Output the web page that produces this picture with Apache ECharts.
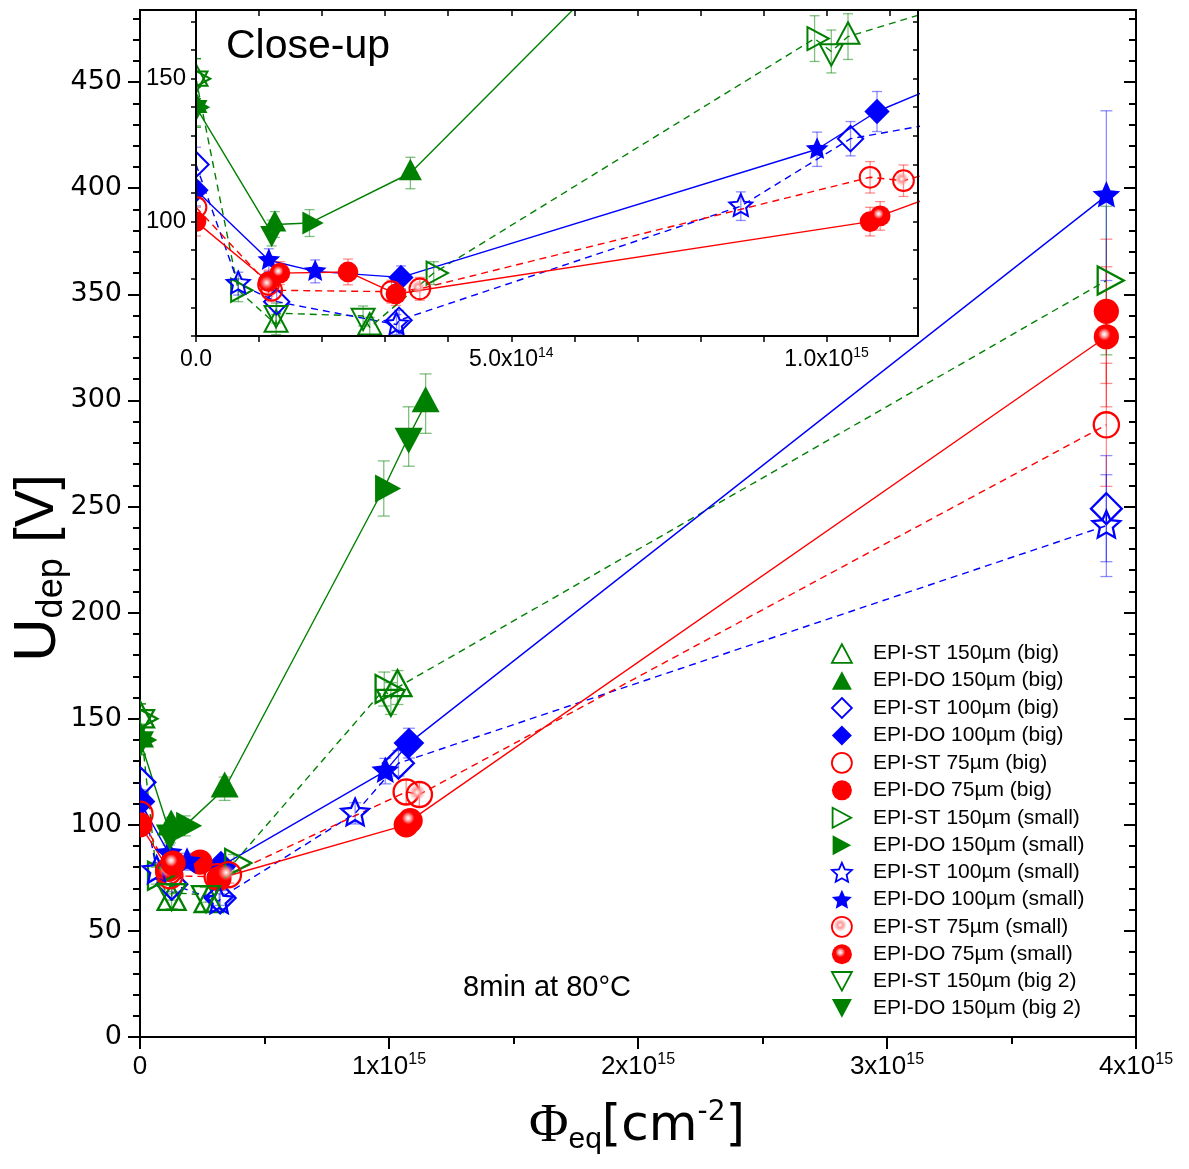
<!DOCTYPE html>
<html>
<head>
<meta charset="utf-8">
<script src="https://cdn.jsdelivr.net/npm/echarts@6/dist/echarts.min.js"></script>
<style>
  html, body { margin: 0; padding: 0; background: #fff; }
  #chart { width: 1189px; height: 1169px; }
</style>
</head>
<body>
<div id="chart"></div>
<script>
const GREEN = '#008000', BLUE = '#0000ff', RED = '#ff0000';
const ERR_COLORS = { '#008000': 'rgba(0,128,0,0.5)', '#0000ff': 'rgba(0,0,255,0.45)', '#ff0000': 'rgba(255,0,0,0.45)' };

// Measured points: [fluence Φeq (cm^-2), U_dep (V), error (V)]
const epiSt150Big   = [[0, 150, 7], [1.27e14, 64, 3.5], [2.755e14, 63, 3.5], [1.034e15, 164.7, 8]];
const epiDo150Big   = [[0, 140.5, 7], [1.25e14, 99, 4.5], [3.4e14, 117, 5.5], [1.147e15, 298.5, 14]];
const epiSt100Big   = [[0, 120, 6], [1.28e14, 72, 3.5], [3.22e14, 65.5, 3.5], [1.038e15, 129, 6], [3.881e15, 249, 25]];
const epiDo100Big   = [[0, 111, 5.5], [3.25e14, 80.5, 4], [1.08e15, 138.5, 7]];
const epiSt75Big    = [[0, 105, 5], [1.2e14, 76, 4], [3.1e14, 75.5, 4], [1.069e15, 115.5, 5.5], [3.881e15, 288.5, 29]];
const epiDo75Big    = [[0, 100, 5], [1.15e14, 79, 4], [2.41e14, 82.4, 4.5], [3.17e14, 74.7, 4], [1.069e15, 100, 5], [3.881e15, 342, 34]];
const epiSt150Small = [[0, 150, 7], [6.7e13, 76, 4], [3.77e14, 82, 4], [9.81e14, 164, 8], [3.881e15, 356.5, 35]];
const epiDo150Small = [[0, 140, 7], [1.8e14, 99.5, 4.7], [9.79e14, 258.5, 13]];
const epiSt100Small = [[6.7e13, 78.3, 4], [3.18e14, 64, 3.5], [8.64e14, 105.4, 5], [3.881e15, 241, 24]];
const epiDo100Small = [[1.155e14, 86.5, 4], [1.89e14, 82.6, 4], [9.85e14, 125.3, 6], [3.881e15, 396.5, 40]];
const epiSt75Small  = [[1.15e14, 78, 4], [3.55e14, 76.5, 4], [1.122e15, 114.3, 5.5]];
const epiDo75Small  = [[1.33e14, 82, 4], [1.085e15, 102, 5], [3.881e15, 330, 33]];
const epiSt150Big2  = [[0, 150, 7], [1.27e14, 68, 3.5], [2.65e14, 67, 3.5], [1.0075e15, 159.5, 7.5]];
const epiDo150Big2  = [[0, 140, 7], [1.2e14, 96, 4.5], [1.079e15, 283, 14]];

// Tick positions and labels
const mainYTicks   = [0, 50, 100, 150, 200, 250, 300, 350, 400, 450];
const insetYTicks  = [60, 70, 80, 90, 100, 110, 120, 130, 140, 150, 160, 170];
const insetYLabels = [100, 150];
const insetXTicks  = [0, 1e14, 2e14, 3e14, 4e14, 5e14, 6e14, 7e14, 8e14, 9e14, 1e15, 1.1e15];
const insetXLabels = [0, 5e14, 1e15];

const SERIES = [
  { name: 'EPI-ST 150µm (big)',   data: epiSt150Big,   color: GREEN, shape: 'up',      fill: 'none',  line: 'st150' },
  { name: 'EPI-DO 150µm (big)',   data: epiDo150Big,   color: GREEN, shape: 'up',      fill: 'solid', line: 'do150' },
  { name: 'EPI-ST 100µm (big)',   data: epiSt100Big,   color: BLUE,  shape: 'diamond', fill: 'none',  line: 'st100' },
  { name: 'EPI-DO 100µm (big)',   data: epiDo100Big,   color: BLUE,  shape: 'diamond', fill: 'solid', line: 'do100' },
  { name: 'EPI-ST 75µm (big)',    data: epiSt75Big,    color: RED,   shape: 'circle',  fill: 'none',  line: 'st75' },
  { name: 'EPI-DO 75µm (big)',    data: epiDo75Big,    color: RED,   shape: 'circle',  fill: 'solid', line: 'do75' },
  { name: 'EPI-ST 150µm (small)', data: epiSt150Small, color: GREEN, shape: 'right',   fill: 'none',  line: 'st150' },
  { name: 'EPI-DO 150µm (small)', data: epiDo150Small, color: GREEN, shape: 'right',   fill: 'solid', line: 'do150' },
  { name: 'EPI-ST 100µm (small)', data: epiSt100Small, color: BLUE,  shape: 'star',    fill: 'none',  line: 'st100' },
  { name: 'EPI-DO 100µm (small)', data: epiDo100Small, color: BLUE,  shape: 'star',    fill: 'solid', line: 'do100' },
  { name: 'EPI-ST 75µm (small)',  data: epiSt75Small,  color: RED,   shape: 'circle',  fill: 'glint', line: 'st75' },
  { name: 'EPI-DO 75µm (small)',  data: epiDo75Small,  color: RED,   shape: 'circle',  fill: 'ball',  line: 'do75' },
  { name: 'EPI-ST 150µm (big 2)', data: epiSt150Big2,  color: GREEN, shape: 'down',    fill: 'none',  line: 'st150' },
  { name: 'EPI-DO 150µm (big 2)', data: epiDo150Big2,  color: GREEN, shape: 'down',    fill: 'solid', line: 'do150' }
];

const LINES = [
  { key: 'do150', color: GREEN, dashed: false },
  { key: 'st150', color: GREEN, dashed: true },
  { key: 'do100', color: BLUE,  dashed: false },
  { key: 'st100', color: BLUE,  dashed: true },
  { key: 'do75',  color: RED,   dashed: false },
  { key: 'st75',  color: RED,   dashed: true }
];

function ballGradient() {
  return new echarts.graphic.RadialGradient(0.42, 0.4, 0.55, [
    { offset: 0, color: '#ffffff' }, { offset: 0.18, color: '#ffb4b4' },
    { offset: 0.45, color: '#ff0000' }, { offset: 1, color: '#ff0000' }]);
}
function glintGradient() {
  return new echarts.graphic.RadialGradient(0.42, 0.42, 0.3, [
    { offset: 0, color: '#ffffff' }, { offset: 0.4, color: 'rgba(255,150,150,0.95)' },
    { offset: 1, color: 'rgba(255,120,120,0)' }]);
}

function markerStyle(def, inset) {
  const lw = inset ? 2 : 2.3;
  switch (def.fill) {
    case 'none':  return { fill: 'rgba(0,0,0,0)', stroke: def.color, lineWidth: lw };
    case 'glint': return { fill: glintGradient(), stroke: def.color, lineWidth: lw };
    case 'ball':  return { fill: ballGradient(), stroke: null, lineWidth: 0 };
    default:      return { fill: def.color, stroke: null, lineWidth: 0 };
  }
}

function starPoints(cx, cy, R) {
  const pts = [];
  for (let i = 0; i < 10; i++) {
    const a = (-90 + i * 36) * Math.PI / 180;
    const rad = i % 2 ? R * 0.47 : R;
    pts.push([cx + rad * Math.cos(a), cy + rad * Math.sin(a)]);
  }
  return pts;
}

// Triangles are anchored on their centroid.
function shapeElement(shape, cx, cy, s, style) {
  const h = s * 0.93;
  let pts;
  switch (shape) {
    case 'circle':
      return { type: 'circle', shape: { cx, cy, r: s * 0.45 }, style };
    case 'up':
      pts = [[cx, cy - 2 * h / 3], [cx + s / 2, cy + h / 3], [cx - s / 2, cy + h / 3]]; break;
    case 'down':
      pts = [[cx - s / 2, cy - h / 3], [cx + s / 2, cy - h / 3], [cx, cy + 2 * h / 3]]; break;
    case 'right':
      pts = [[cx - h / 3, cy - s / 2], [cx + 2 * h / 3, cy], [cx - h / 3, cy + s / 2]]; break;
    case 'diamond': {
      const d = s * 0.55;
      pts = [[cx, cy - d], [cx + d, cy], [cx, cy + d], [cx - d, cy]]; break;
    }
    case 'star':
      pts = starPoints(cx, cy, s * 0.52); break;
  }
  return { type: 'polygon', shape: { points: pts }, style };
}

function markerSeries(def, inset) {
  const size = inset ? 23 : 28;
  return {
    type: 'custom', name: def.name, coordinateSystem: 'cartesian2d',
    xAxisIndex: inset ? 1 : 0, yAxisIndex: inset ? 2 : 0,
    zlevel: inset ? 1 : 0, z: 5, clip: true, silent: true,
    itemStyle: { color: def.color },
    data: def.data.map(p => [p[0], p[1]]),
    encode: { x: 0, y: 1 },
    renderItem: (params, api) => {
      const c = api.coord([api.value(0), api.value(1)]);
      return shapeElement(def.shape, c[0], c[1], size, markerStyle(def, inset));
    }
  };
}

function errorBarSeries(inset) {
  const data = [];
  SERIES.forEach((s, si) => s.data.forEach(p => data.push([p[0], p[1] - p[2], p[1] + p[2], si])));
  const cw = inset ? 5 : 6;
  return {
    type: 'custom', coordinateSystem: 'cartesian2d',
    xAxisIndex: inset ? 1 : 0, yAxisIndex: inset ? 2 : 0,
    zlevel: inset ? 1 : 0, z: 3, clip: true, silent: true,
    data, encode: { x: 0, y: [1, 2] },
    renderItem: (params, api) => {
      const x = api.value(0);
      const lo = api.coord([x, api.value(1)]);
      const hi = api.coord([x, api.value(2)]);
      const st = { stroke: ERR_COLORS[SERIES[api.value(3)].color], lineWidth: 1.3 };
      return { type: 'group', children: [
        { type: 'line', shape: { x1: lo[0], y1: lo[1], x2: hi[0], y2: hi[1] }, style: st },
        { type: 'line', shape: { x1: lo[0] - cw, y1: lo[1], x2: lo[0] + cw, y2: lo[1] }, style: st },
        { type: 'line', shape: { x1: hi[0] - cw, y1: hi[1], x2: hi[0] + cw, y2: hi[1] }, style: st }
      ] };
    }
  };
}

// One connecting line per material/thickness, through all its points in fluence order.
function lineData(key) {
  const pts = [];
  SERIES.filter(s => s.line === key).forEach(s => s.data.forEach(p => pts.push([p[0], p[1]])));
  pts.sort((a, b) => a[0] - b[0] || a[1] - b[1]);
  return pts;
}

function lineSeries(l, inset) {
  return {
    type: 'line', xAxisIndex: inset ? 1 : 0, yAxisIndex: inset ? 2 : 0,
    zlevel: inset ? 1 : 0, z: 2, clip: true, silent: true,
    symbol: 'none', showSymbol: false,
    data: lineData(l.key),
    lineStyle: { color: l.color, width: 1.4, type: l.dashed ? [7, 5] : 'solid' }
  };
}

const ICON_PATHS = {
  up: 'path://M50,0L100,93L0,93Z',
  down: 'path://M0,0L100,0L50,93Z',
  right: 'path://M0,0L93,50L0,100Z',
  diamond: 'path://M50,0L100,50L50,100L0,50Z',
  star: 'path://' + starPoints(50, 50, 50).map((p, i) => (i ? 'L' : 'M') + p[0].toFixed(2) + ',' + p[1].toFixed(2)).join('') + 'Z',
  circle: 'circle'
};

function legendItem(def) {
  let itemStyle;
  switch (def.fill) {
    case 'none':  itemStyle = { color: 'rgba(0,0,0,0)', borderColor: def.color, borderWidth: 1.8 }; break;
    case 'glint': itemStyle = { color: glintGradient(), borderColor: def.color, borderWidth: 1.8 }; break;
    case 'ball':  itemStyle = { color: ballGradient(), borderWidth: 0 }; break;
    default:      itemStyle = { color: def.color, borderWidth: 0 };
  }
  return { name: def.name, icon: ICON_PATHS[def.shape], itemStyle };
}

const SUP_RICH_MAIN = {
  m: { fontFamily: 'Liberation Sans', fontSize: 26, color: '#000', lineHeight: 30 },
  s: { fontFamily: 'Liberation Sans', fontSize: 16, color: '#000', lineHeight: 16, verticalAlign: 'top' }
};
const SUP_RICH_INSET = {
  m: { fontFamily: 'Liberation Sans', fontSize: 23, color: '#000', lineHeight: 28 },
  s: { fontFamily: 'Liberation Sans', fontSize: 14, color: '#000', lineHeight: 14, verticalAlign: 'top' }
};

function fmtMainX(v) {
  if (v === 0) return '{m|0}';
  return '{m|' + Math.round(v / 1e15) + 'x10}{s|15}';
}
function fmtInsetX(v) {
  if (v === 0) return '{m|0.0}';
  const e = Math.floor(Math.log10(v) + 1e-9);
  return '{m|' + (v / Math.pow(10, e)).toFixed(1) + 'x10}{s|' + e + '}';
}

const AXIS_LINE = { show: true, onZero: false, lineStyle: { color: '#000', width: 2 } };
const TICK_STYLE = { color: '#000', width: 2 };

const option = {
  animation: false,
  backgroundColor: '#fff',
  grid: [
    { left: 140, top: 10, width: 996, height: 1027, show: true, borderColor: '#000', borderWidth: 2, backgroundColor: 'rgba(0,0,0,0)' },
    { left: 196, top: 10, width: 722, height: 326, show: true, borderWidth: 0, backgroundColor: '#fff', zlevel: 1 }
  ],
  xAxis: [
    { type: 'value', gridIndex: 0, min: 0, max: 4e15, interval: 1e15, position: 'bottom',
      axisLine: AXIS_LINE, splitLine: { show: false },
      axisTick: { show: true, length: 12, lineStyle: TICK_STYLE },
      minorTick: { show: true, splitNumber: 2, length: 7, lineStyle: TICK_STYLE },
      axisLabel: { margin: 15, formatter: fmtMainX, rich: SUP_RICH_MAIN } },
    { type: 'value', gridIndex: 1, min: 0, max: 1.145e15, interval: 1e14, position: 'bottom', zlevel: 1, z: 6,
      axisLine: AXIS_LINE, splitLine: { show: false },
      axisTick: { show: true, length: 6, customValues: insetXTicks, lineStyle: { color: '#000', width: 1.5 } },
      axisLabel: { margin: 10, customValues: insetXLabels, formatter: fmtInsetX, rich: SUP_RICH_INSET } },
    { type: 'value', gridIndex: 1, min: 0, max: 1.145e15, interval: 1e14, position: 'top', zlevel: 1, z: 6,
      axisLine: AXIS_LINE, splitLine: { show: false },
      axisTick: { show: true, inside: true, length: 6, customValues: insetXTicks, lineStyle: { color: '#000', width: 1.5 } },
      axisLabel: { show: false } }
  ],
  yAxis: [
    { type: 'value', gridIndex: 0, min: 0, max: 484, interval: 50, position: 'left',
      axisLine: AXIS_LINE, splitLine: { show: false },
      axisTick: { show: true, length: 12, customValues: mainYTicks, lineStyle: TICK_STYLE },
      minorTick: { show: true, splitNumber: 5, length: 7, lineStyle: TICK_STYLE },
      axisLabel: { margin: 18, customValues: mainYTicks, fontFamily: 'DejaVu Sans', fontSize: 27, color: '#000' } },
    { type: 'value', gridIndex: 0, min: 0, max: 484, interval: 50, position: 'right',
      axisLine: AXIS_LINE, splitLine: { show: false },
      axisTick: { show: true, inside: true, length: 12, customValues: mainYTicks, lineStyle: TICK_STYLE },
      minorTick: { show: true, splitNumber: 5, length: 7, lineStyle: TICK_STYLE },
      axisLabel: { show: false } },
    { type: 'value', gridIndex: 1, min: 60, max: 174, interval: 10, position: 'left', zlevel: 1, z: 6,
      axisLine: AXIS_LINE, splitLine: { show: false },
      axisTick: { show: true, length: 5, customValues: insetYTicks, lineStyle: { color: '#000', width: 1.5 } },
      axisLabel: { margin: 10, customValues: insetYLabels, fontFamily: 'Liberation Sans', fontSize: 24, color: '#000' } },
    { type: 'value', gridIndex: 1, min: 60, max: 174, interval: 10, position: 'right', zlevel: 1, z: 6,
      axisLine: AXIS_LINE, splitLine: { show: false },
      axisTick: { show: true, inside: true, length: 5, customValues: insetYTicks, lineStyle: { color: '#000', width: 1.5 } },
      axisLabel: { show: false } }
  ],
  legend: {
    orient: 'vertical', left: 831, top: 643,
    itemWidth: 20, itemHeight: 20, itemGap: 6.05,
    selectedMode: false, padding: 0,
    textStyle: { fontFamily: 'Liberation Sans', fontSize: 21, color: '#000', lineHeight: 20, padding: [0, 0, 0, 16] },
    data: SERIES.map(legendItem)
  },
  graphic: [
    { type: 'text', x: 226, y: 47, zlevel: 1, z: 100,
      style: { text: 'Close-up', fontFamily: 'Liberation Sans', fontSize: 41, fill: '#000', align: 'left', verticalAlign: 'middle' } },
    { type: 'text', x: 547, y: 988,
      style: { text: '8min at 80°C', fontFamily: 'Liberation Sans', fontSize: 29, fill: '#000', align: 'center', verticalAlign: 'middle' } },
    { type: 'text', x: 637, y: 1127,
      style: {
        text: '{phi|Φ}{sub|eq}{t|[cm}{sup|-2}{t|]}', align: 'center', verticalAlign: 'middle',
        rich: {
          phi: { fontFamily: 'Liberation Serif', fontSize: 54, lineHeight: 56, fill: '#000' },
          sub: { fontFamily: 'Liberation Sans', fontSize: 30, lineHeight: 12, verticalAlign: 'bottom', fill: '#000' },
          t:   { fontFamily: 'DejaVu Sans', fontSize: 50, lineHeight: 56, fill: '#000' },
          sup: { fontFamily: 'DejaVu Sans', fontSize: 28, lineHeight: 12, verticalAlign: 'top', fill: '#000' }
        }
      } },
    { type: 'text', x: 38, y: 568, rotation: Math.PI / 2,
      style: {
        text: '{u|U}{d|dep}{v| [V]}', align: 'center', verticalAlign: 'middle',
        rich: {
          u: { fontFamily: 'Liberation Sans', fontSize: 60, lineHeight: 64, fill: '#000' },
          d: { fontFamily: 'Liberation Sans', fontSize: 36, lineHeight: 28, verticalAlign: 'bottom', fill: '#000' },
          v: { fontFamily: 'Liberation Sans', fontSize: 56, lineHeight: 64, fill: '#000' }
        }
      } }
  ],
  series: [
    ...LINES.map(l => lineSeries(l, false)),
    errorBarSeries(false),
    ...SERIES.map(s => markerSeries(s, false)),
    ...LINES.map(l => lineSeries(l, true)),
    errorBarSeries(true),
    ...SERIES.map(s => markerSeries(s, true))
  ]
};

const chart = echarts.init(document.getElementById('chart'), null, { renderer: 'canvas', width: 1189, height: 1169 });
chart.setOption(option);
</script>
</body>
</html>
